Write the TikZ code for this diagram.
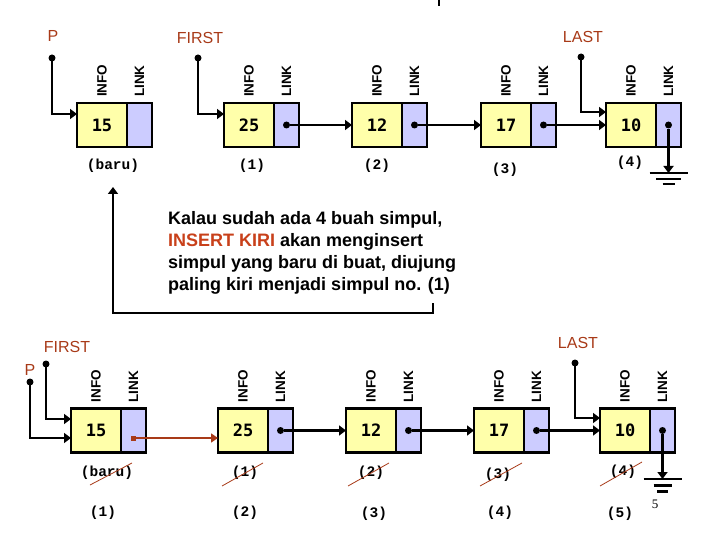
\documentclass[tikz,border=0pt]{standalone}
\usepackage{fontspec}
\setmainfont{Liberation Sans}
\newfontfamily\codefont{Liberation Mono}
\newfontfamily\numfont{DejaVu Sans Mono}
\newfontfamily\serfont{Liberation Serif}
\usetikzlibrary{arrows.meta,positioning}
\definecolor{infofill}{RGB}{255,255,170}
\definecolor{linkfill}{RGB}{204,204,255}
\definecolor{ptrred}{RGB}{168,58,24}
\definecolor{insred}{RGB}{200,64,26}

\begin{document}
\begin{tikzpicture}[x=1pt,y=-1pt]
\tikzset{
  infobox/.style={rectangle,draw,line width=2.6pt,fill=infofill,minimum width=50pt,minimum height=44pt,inner sep=0pt,outer sep=0pt,font=\numfont\bfseries\fontsize{17}{17}\selectfont},
  linkbox/.style={rectangle,draw,line width=2.6pt,fill=linkfill,minimum width=25pt,minimum height=44pt,inner sep=0pt,outer sep=0pt},
  fieldlabel/.style={rotate=90,anchor=west,inner sep=0pt,font=\bfseries\fontsize{13.5}{13.5}\selectfont},
  ptrlabel/.style={text=ptrred,inner sep=0pt,font=\fontsize{16}{16}\selectfont},
  poslabel/.style={inner sep=0pt,font=\codefont\bfseries\fontsize{14.5}{14.5}\selectfont},
  ptr/.style={-{Triangle[length=7pt,width=10pt]},line width=2.2pt},
  newptr/.style={-{Triangle[length=7pt,width=9pt]},line width=1.6pt,draw=ptrred,fill=ptrred},
  dot/.style={circle,fill,inner sep=0pt,minimum size=7pt},
  newdot/.style={rectangle,fill=ptrred,inner sep=0pt,minimum size=5pt},
  strike/.style={draw=ptrred,line width=0.8pt},
  ground/.style={line width=2.2pt}
}
\useasboundingbox (0,0) rectangle (720,540);
\draw[line width=2pt] (439,0) -- (439,6);

% ---- before: four nodes plus the new one
\node[infobox] (i1) at (102,125) {15};
\node[linkbox,right=0pt of i1] (l1) {};
\node[infobox] (i2) at (249,125) {25};
\node[linkbox,right=0pt of i2] (l2) {};
\node[infobox] (i3) at (377,125) {12};
\node[linkbox,right=0pt of i3] (l3) {};
\node[infobox] (i4) at (506,125) {17};
\node[linkbox,right=0pt of i4] (l4) {};
\node[infobox] (i5) at (631,125) {10};
\node[linkbox,right=0pt of i5] (l5) {};
\foreach \n in {1,...,5} {
  \node[fieldlabel] at ([yshift=6pt]i\n.north) {INFO};
  \node[fieldlabel] at ([yshift=6pt]l\n.north) {LINK};
}
\node[poslabel] (b0) at (113,166) {(baru)};
\node[poslabel] (b1) at (252,166) {(1)};
\node[poslabel] (b2) at (377,166) {(2)};
\node[poslabel] (b3) at (505,170) {(3)};
\node[poslabel] (b4) at (630,163) {(4)};

\node[ptrlabel] (pP) at (53,36) {P};
\node[dot] (dP) at (52,58) {};
\draw[ptr] (dP.center) |- ([yshift=11pt]i1.west);
\node[ptrlabel] (pF) at (200,38) {FIRST};
\node[dot] (dF) at (198,58) {};
\draw[ptr] (dF.center) |- ([yshift=11pt]i2.west);
\node[ptrlabel] (pL) at (583,37) {LAST};
\node[dot] (dL) at (581,57) {};
\draw[ptr] (dL.center) |- ([yshift=13pt]i5.west);

\node[dot] (d2) at (l2.center) {};
\node[dot] (d3) at (l3.center) {};
\node[dot] (d4) at (l4.center) {};
\node[dot] (d5) at (l5.center) {};
\draw[ptr] (d2) -- (i3);
\draw[ptr] (d3) -- (i4);
\draw[ptr] (d4) -- (i5);
\coordinate (g1) at ([yshift=-48pt]l5.center);
\draw[ptr] (d5) -- (g1);
\draw[ground] ([xshift=-19pt]g1) -- ([xshift=19pt]g1)
  ([shift={(-12.5,6)}]g1) -- ([shift={(12.5,6)}]g1)
  ([shift={(-6,11)}]g1) -- ([shift={(6,11)}]g1);

% ---- note
\node[anchor=north west,align=left,inner sep=0pt,font=\bfseries\fontsize{18}{22}\selectfont] (note) at (168,211)
  {Kalau sudah ada 4 buah simpul,\\ \textcolor{insred}{INSERT KIRI} akan menginsert\\ simpul yang baru di buat, diujung\\ paling kiri menjadi simpul no. (1)};
\coordinate (ins) at (433,303);
\coordinate (up) at (113,187);
\draw[ptr] (ins) -- ++(0,10) -| (up);

% ---- after: INSERT KIRI
\node[infobox] (j1) at (96,430.5) {15};
\node[linkbox,right=0pt of j1] (m1) {};
\node[infobox] (j2) at (243,430.5) {25};
\node[linkbox,right=0pt of j2] (m2) {};
\node[infobox] (j3) at (371,430.5) {12};
\node[linkbox,right=0pt of j3] (m3) {};
\node[infobox] (j4) at (499,430.5) {17};
\node[linkbox,right=0pt of j4] (m4) {};
\node[infobox] (j5) at (625,430.5) {10};
\node[linkbox,right=0pt of j5] (m5) {};
\foreach \n in {1,...,5} {
  \node[fieldlabel] at ([yshift=6pt]j\n.north) {INFO};
  \node[fieldlabel] at ([yshift=6pt]m\n.north) {LINK};
}
\node[poslabel] (c0) at (107,473) {(baru)};
\node[poslabel] (c1) at (245,473) {(1)};
\node[poslabel] (c2) at (371,473) {(2)};
\node[poslabel] (c3) at (498,475) {(3)};
\node[poslabel] (c4) at (623,472) {(4)};
\draw[strike] (90,485) -- (132,463);
\draw[strike] (222,486) -- (263,463);
\draw[strike] (348,486) -- (389,463);
\draw[strike] (480,486) -- (522,463);
\draw[strike] (600,486) -- (642,462);
\node[poslabel] (n1) at (103,513) {(1)};
\node[poslabel] (n2) at (245,513) {(2)};
\node[poslabel] (n3) at (374,514) {(3)};
\node[poslabel] (n4) at (500,513) {(4)};
\node[poslabel] (n5) at (620,514) {(5)};

\node[ptrlabel] (qF) at (67,347) {FIRST};
\node[dot] (eF) at (46,364) {};
\draw[ptr] (eF.center) |- ([yshift=11.5pt]j1.west);
\node[ptrlabel] (qP) at (30,370) {P};
\node[dot] (eP) at (30,382) {};
\draw[ptr] (eP.center) |- ([yshift=-7.5pt]j1.west);
\node[ptrlabel] (qL) at (578,343) {LAST};
\node[dot] (eL) at (575,363) {};
\draw[ptr] (eL.center) |- ([yshift=12.5pt]j5.west);

\node[newdot] (e1) at ([yshift=-7.5pt]m1.center) {};
\draw[newptr] (e1) -- ([yshift=-7.5pt]j2.west);
\node[dot] (e2) at (m2.center) {};
\node[dot] (e3) at (m3.center) {};
\node[dot] (e4) at (m4.center) {};
\node[dot] (e5) at (m5.center) {};
\draw[ptr] (e2) -- (j3);
\draw[ptr] (e3) -- (j4);
\draw[ptr] (e4) -- (j5);
\coordinate (g2) at ([yshift=-48.5pt]m5.center);
\draw[ptr] (e5) -- (g2);
\draw[ground] ([xshift=-19pt]g2) -- ([xshift=19pt]g2)
  ([shift={(-9,6.5)}]g2) -- ([shift={(9,6.5)}]g2)
  ([shift={(-5.5,12.5)}]g2) -- ([shift={(5.5,12.5)}]g2);
\node[inner sep=0pt,font=\serfont\fontsize{13}{13}\selectfont] (pg) at (655,504) {5};
\end{tikzpicture}
\end{document}
